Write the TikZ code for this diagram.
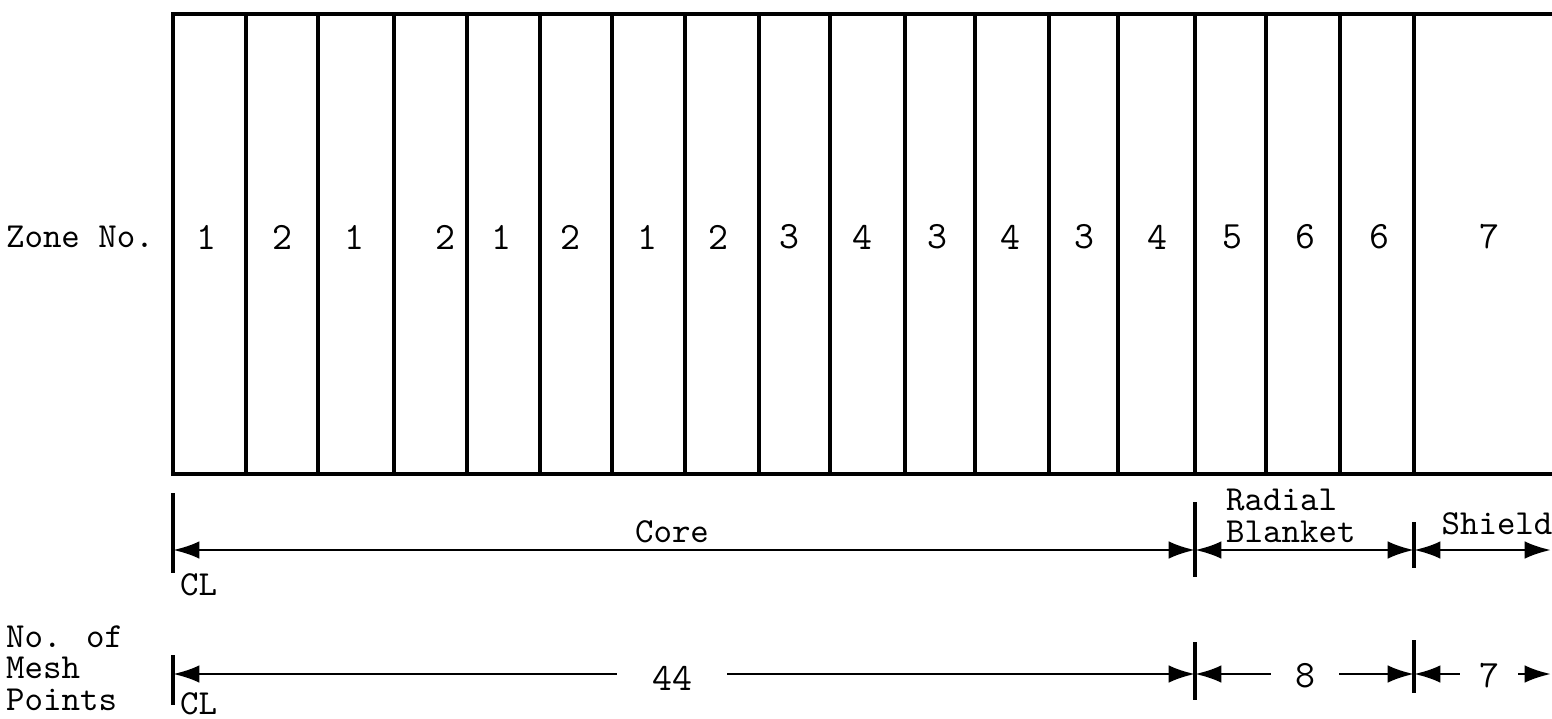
\documentclass[tikz,border=0pt]{standalone}
\usetikzlibrary{arrows.meta, calc, positioning}
\tikzset{
	zone/.style={line width=1.2pt},
	tick/.style={line width=1pt},
	dim/.style={line width=0.8pt, {Latex[length=7.5pt,width=5pt]}-{Latex[length=7.5pt,width=5pt]}},
	txt/.style={font=\ttfamily\fontsize{10}{9}\selectfont, inner sep=1pt},
	num/.style={font=\ttfamily\fontsize{11}{12}\selectfont, inner sep=1pt},
	gap/.style={num, fill=white, inner ysep=1pt}
}
\begin{document}
\begin{tikzpicture}[x=0.01cm,y=-0.01cm]
	\useasboundingbox (0,0) rectangle (1552,718);

	% zone boxes
	\draw[zone] (1552,14) -- (173,14) -- (173,474) -- (1552,474);
	\foreach \x in {246,318,394,467,540,612,685,759,830,905,975,1049,1118,1195,1266,1340,1414} { \draw[zone] (\x,14) -- (\x,474); }

	\node[txt, anchor=east] (zonelbl) at (158,237) {Zone No.};
	\foreach \x/\n [count=\i] in {206/1,282/2,354/1,445/2,501/1,570/2,647/1,718/2,789/3,862/4,937/3,1010/4,1084/3,1157/4,1232/5,1305/6,1379/6,1489/7} { \node[num] (z\i) at (\x,237) {\n}; }

	% regions
	\coordinate (cl1) at (173,550);
	\coordinate (rb1) at (1195,550);
	\coordinate (sh1) at (1414,550);
	\coordinate (end1) at (1551,550);
	\draw[tick] (173,493) -- (173,573);
	\draw[tick] (1195,502) -- (1195,577);
	\draw[tick] (1414,522) -- (1414,568);
	\draw[dim] (cl1) -- (rb1);
	\draw[dim] (rb1) -- (sh1);
	\draw[dim] (sh1) -- (end1);
	\node[txt] (core) at (672,532) {Core};
	\node[txt, align=left, anchor=west] (blanket) at (1222,516) {Radial\\Blanket};
	\node[txt] (shield) at (1497,524) {Shield};
	\node[txt, anchor=west] (cl1lbl) at (176,585) {CL};

	% mesh points
	\node[txt, align=left, anchor=west] (meshlbl) at (2,668) {No. of\\Mesh\\Points};
	\coordinate (cl2) at (173,674);
	\coordinate (rb2) at (1195,674);
	\coordinate (sh2) at (1414,674);
	\coordinate (end2) at (1551,674);
	\draw[tick] (173,655) -- (173,705);
	\draw[tick] (1195,642) -- (1195,700);
	\draw[tick] (1414,640) -- (1414,693);
	\draw[dim] (cl2) -- (rb2);
	\draw[dim] (rb2) -- (sh2);
	\draw[dim] (sh2) -- (end2);
	\node[gap, inner xsep=10pt] (n44) at (672,678) {44};
	\node[gap, inner xsep=6.8pt] (n8) at (1305,676) {8};
	\node[gap, inner xsep=5.4pt] (n7) at (1489,676) {7};
	\node[txt, anchor=west] (cl2lbl) at (176,704) {CL};
\end{tikzpicture}
\end{document}
